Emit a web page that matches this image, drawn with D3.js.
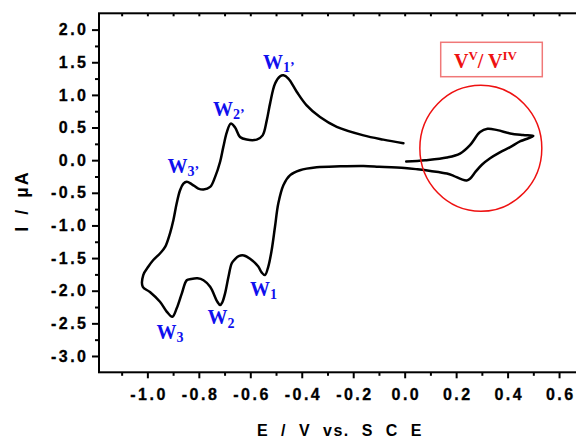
<!DOCTYPE html>
<html><head><meta charset="utf-8">
<script src="https://cdn.jsdelivr.net/npm/d3@7"></script>
<style>body{margin:0;background:#fff}svg{display:block}</style>
</head><body><svg id="c" width="576" height="438"></svg>
<script>
// Cyclic voltammogram (E in V vs SCE, I in µA), in scan order
const cvE = [0.006,0.08,0.164,0.215,0.254,0.293,0.322,0.36,0.41,0.46,0.50,
  0.45,0.41,0.37,0.332,0.30,0.275,0.255,0.241,0.222,0.19,0.164,0.10,0.05,0.0,-0.1,-0.16,-0.25,-0.342,-0.407,-0.445,-0.471,-0.491,-0.504,-0.517,-0.530,-0.543,-0.556,-0.569,-0.601,-0.625,-0.645,-0.660,-0.672,-0.685,-0.698,-0.709,-0.717,-0.728,-0.756,-0.782,-0.805,-0.830,-0.847,-0.866,-0.886,-0.903,-0.925,-0.951,-0.99,-1.018,
  -1.016,-0.996,-0.977,-0.951,-0.931,-0.912,-0.899,-0.886,-0.873,-0.860,-0.847,-0.827,-0.802,-0.782,-0.756,-0.737,-0.717,-0.705,-0.691,-0.676,-0.659,-0.640,-0.614,-0.575,-0.552,-0.536,-0.523,-0.504,-0.484,-0.471,-0.452,-0.419,-0.381,-0.329,-0.264,-0.16,-0.083,-0.005];
const cvI = [-0.02,0.00,0.04,0.10,0.23,0.43,0.48,0.46,0.41,0.385,0.37,
  0.29,0.20,0.12,0.03,-0.07,-0.18,-0.28,-0.31,-0.295,-0.24,-0.205,-0.165,-0.14,-0.12,-0.10,-0.09,-0.095,-0.11,-0.155,-0.23,-0.38,-0.66,-1.02,-1.38,-1.63,-1.76,-1.72,-1.63,-1.51,-1.46,-1.47,-1.52,-1.58,-1.79,-2.04,-2.18,-2.22,-2.17,-1.94,-1.84,-1.81,-1.82,-1.84,-2.04,-2.27,-2.40,-2.32,-2.17,-2.02,-1.94,
  -1.76,-1.63,-1.53,-1.43,-1.33,-1.12,-0.92,-0.66,-0.46,-0.36,-0.33,-0.37,-0.435,-0.45,-0.41,-0.26,-0.02,0.20,0.43,0.56,0.50,0.355,0.315,0.315,0.38,0.61,0.87,1.17,1.285,1.30,1.25,1.045,0.84,0.66,0.51,0.38,0.315,0.26];

const xTicks = [-1.0,-0.8,-0.6,-0.4,-0.2,0.0,0.2,0.4,0.6];
const xMinor = [-1.1,-0.9,-0.7,-0.5,-0.3,-0.1,0.1,0.3,0.5,0.7];
const yTicks = [2.0,1.5,1.0,0.5,0.0,-0.5,-1.0,-1.5,-2.0,-2.5,-3.0];
const yMinor = [1.75,1.25,0.75,0.25,-0.25,-0.75,-1.25,-1.75,-2.25,-2.75];

// Peak labels (anchor in data units)
const peakSub = ["1’","2’","3’","1","2","3"];
const peakE = [-0.551,-0.745,-0.922,-0.601,-0.766,-0.965];
const peakI = [1.397,0.677,-0.196,-2.081,-2.517,-2.739];

// V(V)/V(IV) highlight
const circE = 0.296, circI = 0.182, circRE = 0.237, circRI = 0.965;

const xTitle = "E / V vs. S C E";
const yTitle = "I / µA";

const svg = d3.select("#c");
const x = d3.scaleLinear().domain([-1.188, 0.7]).range([99, 99 + 1.888*257.3]);
const y = d3.scaleLinear().domain([-3.25, 2.25]).range([372.3, 13.3]);
const fmt = d => d.toFixed(1);
const sans = "'Liberation Sans', Arial, sans-serif";
const serif = "'Liberation Serif', 'Times New Roman', serif";

// frame
svg.append("rect").attr("x", x(-1.188)).attr("y", y(2.25))
  .attr("width", x(0.7)-x(-1.188)).attr("height", y(-3.25)-y(2.25))
  .attr("fill","none").attr("stroke","#000").attr("stroke-width",2);

function styleAxis(g){
  g.select(".domain").remove();
  g.selectAll("line").attr("stroke","#000").attr("stroke-width",2);
  g.selectAll("text").attr("font-family",sans).attr("font-weight","bold")
    .attr("font-size","16px").attr("letter-spacing","2.5px").attr("fill","#000")
    .attr("stroke","#000").attr("stroke-width",0.3);
}
const yb = y(-3.25), yt = y(2.25), xl = x(-1.188);
svg.append("g").attr("transform",`translate(0,${yb})`)
  .call(d3.axisBottom(x).tickValues(xTicks).tickSize(6).tickPadding(10).tickFormat(fmt))
  .call(styleAxis).selectAll("text").attr("dx","1.2px");
svg.append("g").attr("transform",`translate(0,${yb})`)
  .call(d3.axisBottom(x).tickValues(xMinor).tickSize(3.5).tickFormat(""))
  .call(styleAxis);
svg.append("g").attr("transform",`translate(0,${yt})`)
  .call(d3.axisBottom(x).tickValues(xTicks.concat(xMinor)).tickSize(3).tickFormat(""))
  .call(styleAxis);
svg.append("g").attr("transform",`translate(${xl},0)`)
  .call(d3.axisLeft(y).tickValues(yTicks).tickSize(7).tickPadding(6).tickFormat(fmt))
  .call(styleAxis).selectAll("text").attr("dx","2.5px");
svg.append("g").attr("transform",`translate(${xl},0)`)
  .call(d3.axisLeft(y).tickValues(yMinor).tickSize(4).tickFormat(""))
  .call(styleAxis);

// titles
svg.append("text").attr("x",340).attr("y",435.5).attr("text-anchor","middle")
  .attr("font-family",sans).attr("font-weight","bold").attr("font-size","16px")
  .attr("letter-spacing","1.5px").attr("word-spacing","6px").text(xTitle);
svg.append("text").attr("transform","translate(28,201) rotate(-90)").attr("text-anchor","middle")
  .attr("font-family",sans).attr("font-weight","bold").attr("font-size","18px")
  .attr("letter-spacing","2px").attr("word-spacing","3px").text(yTitle);

// CV curve
const pts = cvE.map((e,i)=>[e,cvI[i]]);
svg.append("path").datum(pts)
  .attr("d", d3.line().x(d=>x(d[0])).y(d=>y(d[1])).curve(d3.curveCatmullRom.alpha(0.5)))
  .attr("fill","none").attr("stroke","#000").attr("stroke-width",2.5)
  .attr("stroke-linejoin","round").attr("stroke-linecap","round");

// peak labels
peakSub.forEach((s,i)=>{
  const t = svg.append("text").attr("x",x(peakE[i])).attr("y",y(peakI[i]))
    .attr("font-family",serif).attr("font-weight","bold").attr("font-size","20px").attr("fill","#1010ee");
  t.append("tspan").text("W");
  t.append("tspan").attr("font-size","14px").attr("dy","3.5").text(s);
});

// highlight circle
svg.append("ellipse").attr("cx",x(circE)).attr("cy",y(circI))
  .attr("rx",x(circE+circRE)-x(circE)).attr("ry",y(circI-circRI)-y(circI))
  .attr("fill","none").attr("stroke","#ee1111").attr("stroke-width",1.5);

// V(V)/V(IV) box
svg.append("rect").attr("x",440.7).attr("y",42.3).attr("width",101.6).attr("height",34.4)
  .attr("fill","none").attr("stroke","#f07878").attr("stroke-width",1.5);
const vt = svg.append("text").attr("x",454).attr("y",68)
  .attr("font-family",serif).attr("font-weight","bold").attr("font-size","20px").attr("fill","#ee1111");
vt.append("tspan").text("V");
vt.append("tspan").attr("font-size","13px").attr("dy","-8").text("V");
vt.append("tspan").attr("dy","8").text("/ V");
vt.append("tspan").attr("font-size","13px").attr("dy","-8").text("IV");
</script></body></html>
